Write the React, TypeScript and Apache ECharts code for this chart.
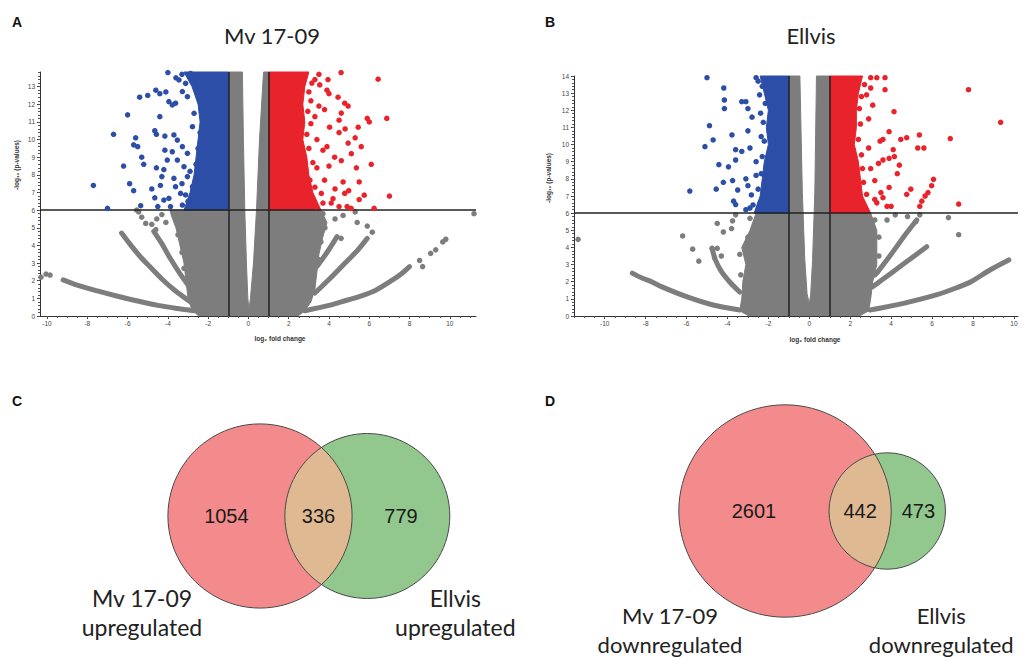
import { useEffect, useRef } from "react";
import * as echarts from "echarts";

// ---------------- axes / thresholds ----------------
const xTickValues = [-10, -8, -6, -4, -2, 0, 2, 4, 6, 8, 10];
const yTickValuesMv = [0, 1, 2, 3, 4, 5, 6, 7, 8, 9, 10, 11, 12, 13];
const yTickValuesEllvis = [0, 1, 2, 3, 4, 5, 6, 7, 8, 9, 10, 11, 12, 13, 14];
const foldChangeCutoffs = [-1, 1];
const pValueCutoff = 6;
const panelTitles = ["Mv 17-09", "Ellvis"];
const panelLetters = ["A", "B", "C", "D"];

// ---------------- Panel A: Mv 17-09 ----------------
const mvGrayCloud = [
  [-2.5, 0.03], [-2.8, 0.35], [-3.0, 1.0], [-3.1, 2.0], [-3.2, 3.0], [-3.4, 4.0], [-3.6, 5.0], [-3.8, 5.6], [-3.9, 6.0],
  [-1, 6.0], [-1, 13.83], [-0.3, 13.83], [-0.25, 10], [-0.18, 6], [-0.1, 3], [-0.03, 1], [0.03, 0.35],
  [0.1, 1], [0.25, 3], [0.4, 6], [0.55, 10], [0.75, 13.83], [1, 13.83], [1, 6.0],
  [3.6, 6.0], [3.9, 5.3], [3.7, 4.5], [3.5, 3.5], [3.4, 2.5], [3.3, 1.5], [3.1, 0.8], [2.8, 0.3], [2.5, 0.03],
];
const mvBlueCloud = [
  [-1, 6], [-1, 13.83], [-3.2, 13.83], [-2.8, 13.0], [-2.5, 12.0], [-2.4, 11.0], [-2.5, 10.0], [-2.6, 9.0], [-2.7, 8.0], [-2.9, 7.0], [-3.2, 6.0],
];
const mvRedCloud = [
  [1, 6], [1, 13.83], [3.0, 13.83], [2.8, 13.0], [2.7, 12.0], [2.8, 11.0], [2.7, 10.0], [2.9, 9.0], [3.0, 8.0], [3.2, 7.0], [3.6, 6.0],
];
const mvGrayArms = [
  [[-9.2, 2.05], [-8.5, 1.75], [-7.5, 1.42], [-6.5, 1.12], [-5.5, 0.85], [-4.5, 0.6], [-3.5, 0.42], [-2.7, 0.3]],
  [[-6.3, 4.7], [-5.9, 4.1], [-5.4, 3.4], [-4.9, 2.8], [-4.3, 2.1], [-3.6, 1.4], [-3.0, 0.9], [-2.5, 0.5]],
  [[-4.7, 4.8], [-4.3, 4.1], [-3.9, 3.3], [-3.4, 2.4], [-2.9, 1.6]],
  [[2.8, 0.3], [4.0, 0.6], [4.6, 0.8], [5.5, 1.1], [6.3, 1.45], [7.1, 2.0], [7.6, 2.4], [8.0, 2.8]],
  [[3.3, 1.3], [4.2, 2.3], [4.8, 3.0], [5.4, 3.7], [5.9, 4.4]],
  [[3.4, 2.8], [3.9, 3.6], [4.4, 4.5]],
];
const mvGrayPoints = [
  [-10.3, 2.2], [-10.05, 2.38], [-9.85, 2.32], [-5.45, 5.9], [-5.3, 5.6], [-5.1, 5.25], [-4.8, 5.2], [-4.55, 5.5],
  [-4.3, 5.75], [-4.1, 5.3], [-5.55, 6.0], [-4.6, 4.9], [11.2, 5.8], [5.3, 5.9], [5.4, 5.3], [5.9, 5.1], [4.7, 5.7],
  [4.3, 5.5], [8.5, 3.15], [8.65, 2.8], [9.05, 3.55], [9.3, 3.75], [9.65, 4.2], [9.8, 4.35], [6.15, 4.75], [4.6, 4.4],
  [-3.7, 5.8], [-3.5, 4.6], [-3.3, 3.6], [-3.2, 2.7], [3.7, 5.8], [3.8, 5.0], [3.6, 4.2], [3.5, 3.2], [3.2, 1.9],
];
const mvBluePoints = [
  [-7.7, 7.4], [-7.0, 6.1], [-6.7, 10.3], [-6.0, 11.4], [-6.2, 8.5], [-5.9, 7.5], [-5.7, 7.1], [-5.6, 10.1], [-5.7, 9.7],
  [-5.5, 9.6], [-5.4, 12.4], [-5.3, 9.0], [-5.2, 8.6], [-5.35, 6.25], [-5.0, 12.5], [-4.8, 7.2], [-4.65, 10.5], [-4.57, 10.3],
  [-4.6, 12.8], [-4.65, 6.7], [-4.57, 8.4], [-4.5, 6.2], [-4.4, 12.6], [-4.4, 11.3], [-4.3, 7.9], [-4.37, 7.4], [-4.2, 8.3],
  [-4.15, 9.4], [-4.1, 12.7], [-4.0, 13.8], [-3.95, 12.15], [-3.78, 11.96], [-3.62, 12.06], [-4.15, 10.2], [-3.7, 10.26],
  [-3.53, 9.97], [-3.78, 9.31], [-3.53, 8.84], [-4.03, 8.84], [-3.28, 9.6], [-3.2, 8.46], [-3.03, 7.9], [-3.7, 7.8],
  [-3.62, 7.33], [-3.37, 6.95], [-3.95, 6.67], [-4.2, 6.57], [-3.87, 6.2], [-3.28, 6.29], [-3.12, 6.86], [-2.78, 7.33],
  [-3.03, 9.22], [-2.78, 10.73], [-2.7, 11.49], [-3.03, 12.43], [-3.28, 12.72], [-3.12, 13.19], [-3.45, 13.38], [-2.87, 13.75],
  [-2.53, 13.57], [-2.5, 6.3], [-2.7, 6.6], [-3.0, 6.5], [-2.45, 7.6], [-2.6, 8.6], [-2.5, 9.5], [-2.4, 10.4], [-2.3, 11.3],
  [-2.35, 12.5], [-2.6, 12.9], [-3.3, 13.7], [-3.6, 13.5], [-2.9, 8.2], [-3.3, 7.5], [-2.2, 11.8],
];
const mvRedPoints = [
  [6.44, 13.42], [6.87, 11.2], [5.9, 11.2], [6.0, 11.0], [7.0, 6.8], [6.24, 6.1], [5.6, 9.6], [5.36, 8.4], [6.1, 8.6],
  [5.3, 10.1], [5.75, 6.85], [5.5, 6.6], [4.98, 7.1], [4.78, 12.06], [4.5, 11.1], [4.6, 13.8], [4.7, 7.6], [3.9, 12.8],
  [4.0, 12.6], [4.8, 10.6], [4.5, 10.4], [3.7, 9.4], [3.9, 9.6], [4.2, 6.65], [4.3, 7.2], [4.9, 6.2], [5.1, 6.1], [5.5, 7.6],
  [3.0, 12.7], [3.3, 13.4], [3.5, 11.9], [3.4, 8.4], [4.0, 8.5], [3.78, 11.7], [4.03, 10.7], [4.28, 9.0], [4.61, 8.8],
  [3.78, 7.7], [3.62, 6.95], [4.11, 6.4], [5.11, 9.2], [4.95, 9.8], [5.45, 10.7], [4.61, 11.5], [3.95, 13.4], [3.54, 13.1],
  [4.45, 12.4], [4.95, 11.9], [4.78, 6.95], [4.5, 6.2], [3.1, 6.4], [3.3, 7.3], [3.05, 7.7], [3.2, 8.7], [3.0, 9.5],
  [2.9, 10.3], [3.1, 10.9], [2.95, 11.6], [3.1, 12.2], [3.15, 13.2], [3.5, 13.7], [3.35, 6.2], [3.7, 6.4], [3.4, 10.0], [3.3, 11.3],
];

// ---------------- Panel B: Ellvis ----------------
const elGrayCloud = [
  [-3.0, 0.03], [-3.4, 0.3], [-3.3, 1.0], [-3.25, 2.0], [-3.1, 3.0], [-3.3, 4.0], [-2.9, 5.0], [-2.6, 6.0],
  [-1, 6], [-1, 14], [-0.46, 14], [-0.34, 7.2], [-0.22, 3.3], [-0.11, 1.3], [0, 0.7],
  [0.07, 1.3], [0.16, 3.3], [0.27, 7.2], [0.35, 14], [1, 14], [1, 6],
  [3.0, 6.0], [3.3, 5.0], [3.3, 4.0], [3.3, 3.0], [3.1, 2.0], [3.0, 1.0], [2.9, 0.3], [2.5, 0.03],
];
const elBlueCloud = [
  [-1, 6], [-1, 14], [-2.4, 14], [-2.2, 13], [-2.0, 12], [-2.1, 11], [-2.0, 10], [-2.2, 9], [-2.3, 8], [-2.4, 7], [-2.7, 6],
];
const elRedCloud = [
  [1, 6], [1, 14], [2.6, 14], [2.4, 13], [2.3, 12], [2.3, 11], [2.2, 10], [2.4, 9], [2.5, 8], [2.6, 7], [3.0, 6],
];
const elGrayArms = [
  [[-8.65, 2.5], [-8.15, 2.2], [-7.8, 2.05], [-7.2, 1.7], [-6.0, 1.13], [-4.7, 0.64], [-3.4, 0.35]],
  [[-4.75, 3.95], [-4.6, 3.3], [-4.3, 2.6], [-3.9, 2.0], [-3.4, 1.4]],
  [[2.97, 0.35], [4.6, 0.74], [6.2, 1.23], [7.2, 1.65], [7.9, 2.0], [8.85, 2.7], [9.75, 3.27]],
  [[3.1, 1.7], [4.0, 2.5], [4.9, 3.3], [5.74, 4.04]],
  [[3.3, 2.5], [4.0, 3.6], [4.6, 4.6], [5.25, 5.6]],
];
const elGrayPoints = [
  [-11.3, 4.47], [-6.19, 4.67], [-5.7, 3.9], [-5.4, 3.2], [-4.75, 3.95], [-4.5, 3.95], [-4.63, 3.4], [-4.3, 3.5],
  [-4.5, 5.4], [-4.2, 4.9], [-3.8, 5.1], [-3.75, 5.55], [-3.6, 5.9], [6.8, 5.74], [7.3, 4.74], [5.4, 5.9], [5.2, 5.5],
  [4.8, 5.8], [4.2, 5.9], [3.8, 5.6], [-2.9, 5.7], [-3.0, 4.6], [-3.4, 3.6], [-3.35, 2.4], [3.2, 5.6], [3.4, 4.6],
  [3.4, 3.5], [3.2, 2.4],
];
const elBluePoints = [
  [-5.0, 13.9], [-4.18, 13.3], [-4.15, 12.6], [-4.15, 12.1], [-4.88, 11.1], [-4.7, 10.27], [-5.1, 9.88], [-5.84, 7.29],
  [-4.42, 8.83], [-4.55, 7.4], [-4.2, 7.8], [-3.95, 8.7], [-3.78, 10.56], [-3.75, 7.9], [-3.7, 6.7], [-3.6, 6.5], [-3.6, 9.1],
  [-3.6, 9.7], [-3.3, 9.6], [-3.5, 7.35], [-3.3, 12.5], [-3.1, 12.5], [-3.0, 12.1], [-3.0, 10.8], [-2.9, 9.8], [-3.1, 8.0],
  [-3.0, 7.6], [-2.83, 7.06], [-2.75, 6.48], [-2.6, 9.0], [-2.43, 12.9], [-2.38, 11.83], [-2.35, 10.47], [-3.1, 6.2], [-2.8, 11.6],
  [-2.5, 13.7], [-2.6, 8.2], [-2.4, 6.6], [-2.5, 7.4], [-2.35, 8.3], [-2.3, 9.3], [-2.2, 10.2], [-2.25, 11.3], [-2.15, 12.4],
  [-2.3, 13.4], [-2.6, 13.9], [-2.0, 12.8], [-2.9, 6.3],
];
const elRedPoints = [
  [7.78, 13.2], [9.35, 11.3], [6.89, 10.35], [7.3, 6.53], [6.07, 7.97], [5.98, 7.6], [5.8, 7.2], [5.66, 7.0], [5.5, 6.7],
  [5.4, 6.4], [5.38, 10.56], [5.3, 9.8], [5.6, 9.8], [4.76, 10.4], [4.47, 10.3], [4.96, 7.4], [4.76, 7.1], [4.14, 11.92],
  [3.7, 13.9], [3.3, 13.9], [3.7, 13.2], [3.0, 13.3], [3.9, 10.75], [3.46, 10.2], [3.6, 10.3], [4.1, 9.7], [4.16, 9.3],
  [3.9, 9.2], [3.6, 9.1], [3.38, 8.9], [3.9, 7.5], [3.6, 6.9], [3.8, 6.4], [4.0, 6.4], [3.3, 6.6], [3.5, 7.2], [3.0, 8.6],
  [3.2, 7.9], [2.9, 11.5], [3.1, 12.3], [2.8, 12.9], [4.4, 8.8], [4.3, 8.3], [2.7, 6.3], [2.8, 7.1], [2.65, 7.8], [2.6, 8.6],
  [2.55, 9.4], [2.4, 10.3], [2.5, 11.2], [2.45, 12.1], [2.55, 12.8], [2.7, 13.5], [3.0, 13.9], [3.2, 6.8], [2.9, 9.8],
];

// ---------------- Venn diagrams ----------------
const vennUpCounts = [1054, 336, 779]; // Mv only, both, Ellvis only
const vennDownCounts = [2601, 442, 473];
const vennUpLabels = ["Mv 17-09\nupregulated", "Ellvis\nupregulated"];
const vennDownLabels = ["Mv 17-09\ndownregulated", "Ellvis\ndownregulated"];

// ---------------- styles ----------------
const GRAY = "#7d7d7d";
const BLUE = "#2d4ea6";
const RED = "#e8232b";
const VENN_RED = "#f38b8c";
const VENN_GREEN = "#92c88d";
const VENN_TAN = "#dfb991";
const AXIS_FONT = "'Liberation Sans', Arial, sans-serif";
const LABEL_FONT = "Lato, 'Open Sans', sans-serif";

function range(a: number, b: number, s: number) {
  const out: number[] = [];
  for (let v = a; v <= b + 1e-9; v += s) out.push(Math.round(v * 100) / 100);
  return out;
}

function polygonSeries(points: number[][], color: string, xi: number, yi: number, z: number) {
  return {
    type: "custom",
    xAxisIndex: xi,
    yAxisIndex: yi,
    z,
    silent: true,
    data: points,
    encode: { x: 0, y: 1 },
    renderItem: (params: any, api: any) => {
      if (params.dataIndex !== 0) return null;
      return {
        type: "polygon",
        shape: { points: points.map((p) => api.coord(p)) },
        style: { fill: color, stroke: color, lineWidth: 1 },
      };
    },
  };
}

function scatterSeries(points: number[][], color: string, xi: number, yi: number, z: number) {
  return {
    type: "scatter",
    xAxisIndex: xi,
    yAxisIndex: yi,
    z,
    silent: true,
    data: points,
    symbolSize: 5.5,
    itemStyle: { color, opacity: 1 },
  };
}

function volcanoSeries(p: any, xi: number, yi: number) {
  const s: any[] = [];
  s.push(polygonSeries(p.grayCloud, GRAY, xi, yi, 1));
  p.grayArms.forEach((arm: number[][]) =>
    s.push({
      type: "line",
      xAxisIndex: xi,
      yAxisIndex: yi,
      data: arm,
      symbol: "none",
      smooth: 0.3,
      silent: true,
      z: 2,
      lineStyle: { color: GRAY, width: 5, cap: "round", join: "round" },
    })
  );
  s.push(scatterSeries(p.grayPoints, GRAY, xi, yi, 3));
  s.push(polygonSeries(p.blueCloud, BLUE, xi, yi, 4));
  s.push(polygonSeries(p.redCloud, RED, xi, yi, 4));
  s.push(scatterSeries(p.bluePoints, BLUE, xi, yi, 5));
  s.push(scatterSeries(p.redPoints, RED, xi, yi, 5));
  s.push({
    type: "line",
    xAxisIndex: xi,
    yAxisIndex: yi,
    data: [],
    z: 10,
    silent: true,
    markLine: {
      silent: true,
      symbol: "none",
      label: { show: false },
      lineStyle: { color: "#222", width: 1.5, type: "solid" },
      data: [
        { xAxis: foldChangeCutoffs[0] },
        { xAxis: foldChangeCutoffs[1] },
        { yAxis: pValueCutoff },
      ],
    },
  });
  return s;
}

function volcanoAxes(gi: number, xmin: number, xmax: number, ymax: number, yTicks: number[]) {
  const label = { fontSize: 6.5, color: "#444", fontFamily: AXIS_FONT };
  const xAxes = [
    {
      gridIndex: gi, type: "value", min: xmin, max: xmax, position: "bottom",
      axisLine: { onZero: false, lineStyle: { color: "#333", width: 1 } },
      axisTick: { customValues: xTickValues, length: 3, lineStyle: { color: "#333" } },
      axisLabel: { customValues: xTickValues, margin: 4, ...label },
      splitLine: { show: false },
    },
    {
      gridIndex: gi, type: "value", min: xmin, max: xmax, position: "bottom",
      axisLine: { show: false, onZero: false },
      axisTick: { customValues: range(Math.ceil(xmin * 2) / 2, xmax, 0.5), length: 2, lineStyle: { color: "#555" } },
      axisLabel: { show: false },
      splitLine: { show: false },
    },
  ];
  const yAxes = [
    {
      gridIndex: gi, type: "value", min: 0, max: ymax, position: "left",
      axisLine: { onZero: false, lineStyle: { color: "#333", width: 1 } },
      axisTick: { customValues: yTicks, length: 3, lineStyle: { color: "#333" } },
      axisLabel: { customValues: yTicks, margin: 5, ...label },
      splitLine: { show: false },
    },
    {
      gridIndex: gi, type: "value", min: 0, max: ymax, position: "left",
      axisLine: { show: false, onZero: false },
      axisTick: { customValues: range(0, ymax, 0.2), length: 2, lineStyle: { color: "#555" } },
      axisLabel: { show: false },
      splitLine: { show: false },
    },
  ];
  return { xAxes, yAxes };
}

function lensArea(r1: number, r2: number, d: number) {
  if (d >= r1 + r2) return 0;
  if (d <= Math.abs(r1 - r2)) return Math.PI * Math.min(r1, r2) ** 2;
  const a1 = Math.acos((d * d + r1 * r1 - r2 * r2) / (2 * d * r1));
  const a2 = Math.acos((d * d + r2 * r2 - r1 * r1) / (2 * d * r2));
  return r1 * r1 * a1 + r2 * r2 * a2 - 0.5 * Math.sqrt((-d + r1 + r2) * (d + r1 - r2) * (d - r1 + r2) * (d + r1 + r2));
}

function vennSeries(counts: number[], names: string[], layout: any) {
  return {
    type: "custom",
    xAxisIndex: 4,
    yAxisIndex: 4,
    silent: true,
    clip: false,
    z: 1,
    data: [[layout.cx, layout.cy]],
    renderItem: (params: any, api: any) => {
      const [a, b, c] = counts;
      const k = layout.k;
      const r1 = k * Math.sqrt(a + b);
      const r2 = k * Math.sqrt(b + c);
      const target = Math.PI * k * k * b;
      let lo = Math.abs(r1 - r2), hi = r1 + r2;
      for (let i = 0; i < 60; i++) {
        const mid = (lo + hi) / 2;
        if (lensArea(r1, r2, mid) > target) lo = mid; else hi = mid;
      }
      const d = (lo + hi) / 2;
      const [x1, y1] = api.coord([api.value(0), api.value(1)]);
      const x2 = x1 + d, y2 = y1;
      const ad = (d * d + r1 * r1 - r2 * r2) / (2 * d);
      const t1 = Math.acos(ad / r1);
      const t2 = Math.acos((d - ad) / r2);
      const lens: number[][] = [];
      const N = 60;
      for (let i = 0; i <= N; i++) {
        const t = -t1 + (2 * t1 * i) / N;
        lens.push([x1 + r1 * Math.cos(t), y1 + r1 * Math.sin(t)]);
      }
      for (let i = 0; i <= N; i++) {
        const t = Math.PI - t2 + (2 * t2 * i) / N;
        lens.push([x2 + r2 * Math.cos(t), y2 + r2 * Math.sin(t)]);
      }
      const numStyle = (text: string, x: number) => ({
        type: "text",
        x, y: y1,
        style: {
          text, fill: "#1a1a1a", fontSize: 20, fontFamily: AXIS_FONT,
          align: "center", verticalAlign: "middle", textAlign: "center", textVerticalAlign: "middle",
        },
      });
      const setLabel = (text: string, x: number, y: number) => ({
        type: "text",
        x, y,
        style: {
          text, fill: "#222", fontSize: layout.fs, fontFamily: LABEL_FONT, lineHeight: layout.lh,
          align: "center", verticalAlign: "middle", textAlign: "center", textVerticalAlign: "middle",
        },
      });
      const stroke = { stroke: "#4a4a4a", lineWidth: 1 };
      return {
        type: "group",
        children: [
          { type: "circle", shape: { cx: x1, cy: y1, r: r1 }, style: { fill: VENN_RED } },
          { type: "circle", shape: { cx: x2, cy: y2, r: r2 }, style: { fill: VENN_GREEN } },
          { type: "polygon", shape: { points: lens }, style: { fill: VENN_TAN } },
          { type: "circle", shape: { cx: x1, cy: y1, r: r1 }, style: { fill: "none", ...stroke } },
          { type: "circle", shape: { cx: x2, cy: y2, r: r2 }, style: { fill: "none", ...stroke } },
          numStyle(String(a), (x1 - r1 + x2 - r2) / 2),
          numStyle(String(b), (x2 - r2 + x1 + r1) / 2),
          numStyle(String(c), (x1 + r1 + x2 + r2) / 2),
          setLabel(names[0], x1 + layout.l1dx, y1 + layout.ldy),
          setLabel(names[1], x2 + layout.l2dx, y1 + layout.ldy),
        ],
      };
    },
  };
}

export default function App() {
  const ref = useRef<HTMLDivElement>(null);
  useEffect(() => {
    document.body.style.margin = "0";
    if (!ref.current) return;
    const chart = echarts.init(ref.current, undefined, { renderer: "svg" });

    const A = volcanoAxes(0, -10.35, 11.3, 13.83, yTickValuesMv);
    const B = volcanoAxes(1, -11.5, 10.2, 14, yTickValuesEllvis);

    const mv = {
      grayCloud: mvGrayCloud, blueCloud: mvBlueCloud, redCloud: mvRedCloud, grayArms: mvGrayArms,
      grayPoints: mvGrayPoints, bluePoints: mvBluePoints, redPoints: mvRedPoints,
    };
    const el = {
      grayCloud: elGrayCloud, blueCloud: elBlueCloud, redCloud: elRedCloud, grayArms: elGrayArms,
      grayPoints: elGrayPoints, bluePoints: elBluePoints, redPoints: elRedPoints,
    };

    const smallText = (text: string, x: number, y: number, rot = 0) => ({
      type: "text", x, y, rotation: rot, silent: true,
      style: {
        text, fontSize: 6.5, fill: "#333", fontFamily: AXIS_FONT, fontWeight: "bold",
        textAlign: "center", textVerticalAlign: "middle", align: "center", verticalAlign: "middle",
      },
    });
    const letter = (text: string, x: number, y: number) => ({
      type: "text", x, y, silent: true,
      style: { text, fontSize: 14, fontWeight: "bold", fill: "#111", fontFamily: AXIS_FONT, textVerticalAlign: "middle", verticalAlign: "middle" },
    });
    const title = (text: string, x: number, y: number) => ({
      type: "text", x, y, silent: true,
      style: {
        text, fontSize: 22, fill: "#222", fontFamily: LABEL_FONT,
        textAlign: "center", textVerticalAlign: "middle", align: "center", verticalAlign: "middle",
      },
    });

    const option: any = {
      animation: false,
      backgroundColor: "#ffffff",
      grid: [
        { left: 40, top: 72, width: 436, height: 244 },
        { left: 574, top: 76, width: 444, height: 240 },
        { left: 0, top: 0, width: 1023, height: 660 },
      ],
      xAxis: [
        ...A.xAxes,
        ...B.xAxes,
        { gridIndex: 2, type: "value", min: 0, max: 1023, show: false },
      ],
      yAxis: [
        ...A.yAxes,
        ...B.yAxes,
        { gridIndex: 2, type: "value", min: 0, max: 660, inverse: true, show: false },
      ],
      series: [
        ...volcanoSeries(mv, 0, 0),
        ...volcanoSeries(el, 2, 2),
        vennSeries(vennUpCounts, vennUpLabels, { cx: 260, cy: 516, k: 2.47, l1dx: -118, l2dx: 88, ldy: 96, fs: 23, lh: 29 }),
        vennSeries(vennDownCounts, vennDownLabels, { cx: 785, cy: 511, k: 1.925, l1dx: -115, l2dx: 54, ldy: 119, fs: 22, lh: 29 }),
      ],
      graphic: [
        letter(panelLetters[0], 12, 22),
        letter(panelLetters[1], 545, 22),
        letter(panelLetters[2], 12, 401),
        letter(panelLetters[3], 545, 401),
        title(panelTitles[0], 272, 35),
        title(panelTitles[1], 811, 35),
        smallText("log\u2082 fold change", 280, 338),
        smallText("log\u2082 fold change", 815, 339),
        smallText("-log\u2081\u2080 (p-values)", 16, 165, Math.PI / 2),
        smallText("-log\u2081\u2080 (p-values)", 548, 178, Math.PI / 2),
      ],
    };
    chart.setOption(option);
    return () => chart.dispose();
  }, []);
  return <div ref={ref} style={{ width: 1023, height: 660 }} />;
}
